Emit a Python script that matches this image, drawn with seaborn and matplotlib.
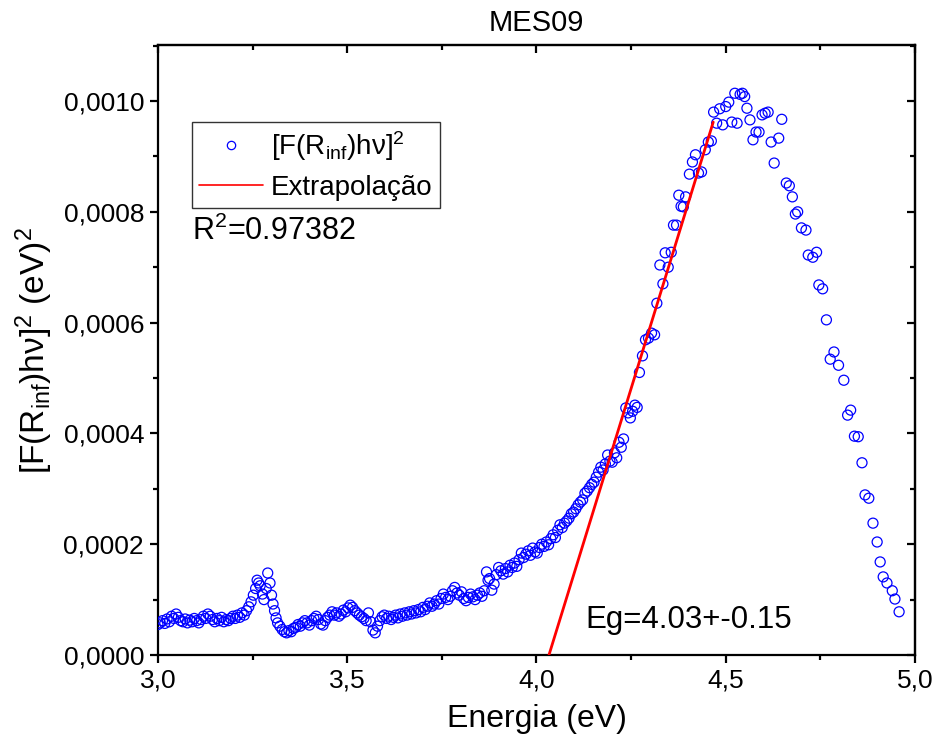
import numpy as np
import pandas as pd
import matplotlib
matplotlib.use("Agg")
import matplotlib.pyplot as plt
import seaborn as sns
from matplotlib.ticker import FuncFormatter, MultipleLocator
from matplotlib.lines import Line2D

# ---------------- data ----------------
energy = [
    3.000, 3.006, 3.012, 3.018, 3.024, 3.030, 3.036, 3.042, 3.048, 3.054,
    3.060, 3.066, 3.072, 3.078, 3.084, 3.090, 3.096, 3.102, 3.108, 3.114,
    3.120, 3.126, 3.132, 3.138, 3.144, 3.150, 3.156, 3.162, 3.168, 3.174,
    3.180, 3.186, 3.192, 3.198, 3.204, 3.210, 3.216, 3.222, 3.228, 3.234,
    3.240, 3.246, 3.252, 3.258, 3.262, 3.266, 3.270, 3.276, 3.280, 3.286,
    3.290, 3.296, 3.300, 3.304, 3.308, 3.312, 3.316, 3.322, 3.328, 3.334,
    3.340, 3.346, 3.352, 3.358, 3.364, 3.370, 3.376, 3.382, 3.388, 3.394,
    3.400, 3.406, 3.412, 3.418, 3.424, 3.430, 3.436, 3.442, 3.448, 3.454,
    3.460, 3.466, 3.472, 3.478, 3.484, 3.490, 3.496, 3.502, 3.508, 3.514,
    3.520, 3.526, 3.532, 3.538, 3.544, 3.550, 3.556, 3.562, 3.568, 3.574,
    3.580, 3.586, 3.592, 3.598, 3.604, 3.610, 3.616, 3.622, 3.628, 3.634,
    3.640, 3.646, 3.652, 3.658, 3.664, 3.670, 3.676, 3.682, 3.688, 3.694,
    3.700, 3.706, 3.712, 3.718, 3.724, 3.730, 3.736, 3.742, 3.748, 3.754,
    3.760, 3.766, 3.772, 3.778, 3.784, 3.790, 3.796, 3.802, 3.808, 3.814,
    3.820, 3.826, 3.832, 3.838, 3.844, 3.850, 3.856, 3.862, 3.868, 3.872,
    3.876, 3.882, 3.888, 3.894, 3.900, 3.906, 3.912, 3.918, 3.924, 3.930,
    3.936, 3.942, 3.948, 3.954, 3.960, 3.966, 3.972, 3.978, 3.984, 3.990,
    3.996, 4.002, 4.008, 4.014, 4.020, 4.026, 4.032, 4.038, 4.044, 4.050,
    4.056, 4.062, 4.068, 4.074, 4.080, 4.086, 4.092, 4.098, 4.104, 4.110,
    4.116, 4.122, 4.128, 4.134, 4.140, 4.146, 4.152, 4.158, 4.164, 4.170,
    4.176, 4.182, 4.188, 4.194, 4.200, 4.206, 4.212, 4.218, 4.224, 4.230,
    4.236, 4.242, 4.248, 4.254, 4.260, 4.266, 4.272, 4.280, 4.288, 4.296,
    4.304, 4.312, 4.318, 4.326, 4.334, 4.340, 4.348, 4.356, 4.362, 4.370,
    4.376, 4.382, 4.388, 4.394, 4.404, 4.412, 4.420, 4.428, 4.436, 4.446,
    4.454, 4.462, 4.468, 4.476, 4.484, 4.492, 4.500, 4.508, 4.516, 4.524,
    4.530, 4.538, 4.544, 4.550, 4.556, 4.564, 4.572, 4.580, 4.588, 4.596,
    4.604, 4.612, 4.620, 4.628, 4.640, 4.648, 4.660, 4.668, 4.676, 4.684,
    4.690, 4.700, 4.712, 4.718, 4.730, 4.740, 4.746, 4.756, 4.766, 4.776,
    4.786, 4.798, 4.812, 4.822, 4.830, 4.840, 4.850, 4.860, 4.868, 4.878,
    4.889, 4.900, 4.908, 4.916, 4.926, 4.940, 4.947, 4.958,
]
# [F(R_inf)hv]^2 in units of 1e-4 eV^2
signal_e4 = [
    0.55, 0.58, 0.62, 0.57, 0.65, 0.60, 0.70, 0.66, 0.74, 0.68,
    0.62, 0.60, 0.65, 0.58, 0.63, 0.60, 0.66, 0.62, 0.58, 0.64,
    0.70, 0.66, 0.74, 0.70, 0.64, 0.60, 0.66, 0.62, 0.68, 0.60,
    0.64, 0.62, 0.66, 0.70, 0.66, 0.72, 0.68, 0.76, 0.72, 0.80,
    0.87, 0.96, 1.08, 1.20, 1.35, 1.30, 1.25, 1.10, 1.00, 1.20,
    1.48, 1.30, 1.08, 0.92, 0.80, 0.67, 0.58, 0.52, 0.46, 0.42,
    0.40, 0.44, 0.42, 0.48, 0.50, 0.55, 0.52, 0.58, 0.62, 0.58,
    0.54, 0.62, 0.66, 0.70, 0.64, 0.56, 0.54, 0.62, 0.68, 0.72,
    0.78, 0.72, 0.76, 0.70, 0.74, 0.81, 0.78, 0.85, 0.90, 0.86,
    0.80, 0.76, 0.72, 0.69, 0.66, 0.62, 0.76, 0.60, 0.45, 0.40,
    0.52, 0.62, 0.69, 0.72, 0.66, 0.70, 0.64, 0.68, 0.72, 0.67,
    0.74, 0.70, 0.76, 0.72, 0.78, 0.74, 0.80, 0.76, 0.82, 0.78,
    0.86, 0.82, 0.88, 0.94, 0.88, 0.92, 0.98, 0.92, 1.02, 1.10,
    1.04, 1.00, 1.06, 1.16, 1.22, 1.12, 1.08, 1.14, 1.02, 0.98,
    1.04, 1.10, 1.05, 1.00, 1.08, 1.12, 1.06, 1.16, 1.50, 1.35,
    1.38, 1.17, 1.28, 1.45, 1.58, 1.52, 1.46, 1.56, 1.50, 1.62,
    1.58, 1.66, 1.60, 1.72, 1.84, 1.76, 1.82, 1.88, 1.80, 1.93,
    1.86, 1.84, 1.94, 2.00, 1.96, 2.04, 1.99, 2.10, 2.17, 2.12,
    2.25, 2.35, 2.30, 2.38, 2.42, 2.47, 2.55, 2.58, 2.64, 2.71,
    2.76, 2.80, 2.92, 2.96, 3.02, 3.08, 3.12, 3.21, 3.30, 3.39,
    3.34, 3.45, 3.61, 3.50, 3.48, 3.65, 3.56, 3.84, 3.75, 3.90,
    4.46, 4.37, 4.28, 4.40, 4.51, 4.47, 5.10, 5.40, 5.69, 5.72,
    5.81, 5.78, 6.35, 7.04, 6.70, 7.26, 7.00, 7.27, 7.76, 7.76,
    8.30, 8.10, 8.09, 8.27, 8.68, 8.90, 9.03, 8.70, 8.72, 9.12,
    9.26, 9.28, 9.80, 9.60, 9.86, 9.57, 9.90, 9.98, 9.62, 10.14,
    9.60, 10.12, 10.14, 10.08, 9.87, 9.66, 9.30, 9.44, 9.44, 9.75,
    9.78, 9.80, 9.26, 8.88, 9.33, 9.67, 8.52, 8.47, 8.27, 7.96,
    8.00, 7.71, 7.67, 7.22, 7.18, 7.27, 6.68, 6.61, 6.05, 5.34,
    5.47, 5.23, 4.96, 4.33, 4.42, 3.95, 3.94, 3.47, 2.89, 2.83,
    2.38, 2.04, 1.68, 1.41, 1.30, 1.16, 1.01, 0.78,
]
fit_x = [4.033, 4.467]
fit_y = [0.0, 0.000962]

title = "MES09"
xlabel = "Energia (eV)"
ylabel = r"[F(R$_{\mathrm{inf}}$)hν]$^2$ (eV)$^2$"
legend_labels = [r"[F(R$_{\mathrm{inf}}$)hν]$^2$", "Extrapolação"]
r2_text = r"R$^2$=0.97382"
eg_text = "Eg=4.03+-0.15"

df = pd.DataFrame({"energy": energy, "signal": np.array(signal_e4) * 1e-4})
fit = pd.DataFrame({"energy": fit_x, "signal": fit_y})

# ---------------- style ----------------
sns.set_theme(style="white")
plt.rcParams["font.family"] = ["Liberation Sans", "DejaVu Sans"]
plt.rcParams["mathtext.fontset"] = "custom"
plt.rcParams["mathtext.rm"] = "Liberation Sans"
plt.rcParams["mathtext.it"] = "Liberation Sans:italic"
plt.rcParams["mathtext.bf"] = "Liberation Sans:bold"
plt.rcParams["text.color"] = "black"
plt.rcParams["axes.labelcolor"] = "black"
plt.rcParams["xtick.color"] = "black"
plt.rcParams["ytick.color"] = "black"

fig = plt.figure(figsize=(9.33, 7.49), dpi=100)
ax = fig.add_axes([0.1693, 0.1255, 0.8114, 0.8144])

sns.scatterplot(data=df, x="energy", y="signal", ax=ax, marker="o",
                facecolor="none", edgecolor="#0000ff", s=52, linewidth=0.9,
                legend=False, zorder=3)
sns.lineplot(data=fit, x="energy", y="signal", ax=ax, color="#ff0000",
             linewidth=2.0, legend=False, zorder=4)

ax.set_xlim(3.0, 5.0)
ax.set_ylim(0.0, 0.0011011)
ax.xaxis.set_major_locator(MultipleLocator(0.5))
ax.xaxis.set_minor_locator(MultipleLocator(0.25))
ax.yaxis.set_major_locator(MultipleLocator(0.0002))
ax.yaxis.set_minor_locator(MultipleLocator(0.0001))
ax.xaxis.set_major_formatter(FuncFormatter(lambda v, p: f"{v:.1f}".replace(".", ",")))
ax.yaxis.set_major_formatter(FuncFormatter(lambda v, p: f"{v:.4f}".replace(".", ",")))

for sp in ax.spines.values():
    sp.set_linewidth(1.6)
    sp.set_color("black")

ax.tick_params(axis="both", which="major", direction="out", length=6, width=1.6,
               labelsize=19, colors="black", pad=4)
ax.tick_params(axis="both", which="minor", direction="out", length=3.5, width=1.6,
               colors="black")
ax.tick_params(bottom=True, left=True, which="both")

# mirrored inward ticks on top and right
top = ax.secondary_xaxis("top")
top.xaxis.set_major_locator(MultipleLocator(0.5))
top.xaxis.set_minor_locator(MultipleLocator(0.25))
top.tick_params(which="major", direction="in", length=6, width=1.6, labeltop=False)
top.tick_params(which="minor", direction="in", length=3.5, width=1.6)
top.spines["top"].set_linewidth(1.6)
right = ax.secondary_yaxis("right")
right.yaxis.set_major_locator(MultipleLocator(0.0002))
right.yaxis.set_minor_locator(MultipleLocator(0.0001))
right.tick_params(which="major", direction="in", length=6, width=1.6, labelright=False)
right.tick_params(which="minor", direction="in", length=3.5, width=1.6)
right.spines["right"].set_linewidth(1.6)

ax.set_xlabel(xlabel, fontsize=23, labelpad=8)
ax.set_ylabel(ylabel, fontsize=24, labelpad=6)
ax.set_title(title, fontsize=21, pad=10)

handles = [
    Line2D([], [], marker="o", linestyle="none", markerfacecolor="none",
           markeredgecolor="#0000ff", markersize=6, markeredgewidth=0.9),
    Line2D([], [], color="#ff0000", linewidth=1.2),
]
leg = ax.legend(handles, legend_labels, loc="upper left",
                bbox_to_anchor=(0.045, 0.874), borderaxespad=0,
                fontsize=20, frameon=True, fancybox=False, handlelength=2.3,
                handletextpad=0.3, borderpad=0.25, labelspacing=0.45)
leg.get_frame().set_edgecolor("black")
leg.get_frame().set_linewidth(1.0)

ax.text(0.045, 0.694, r2_text, transform=ax.transAxes, fontsize=22,
        ha="left", va="center")
ax.text(4.128, 0.000063, eg_text, fontsize=22.5, ha="left", va="center")

fig.savefig("out.png", dpi=100)
